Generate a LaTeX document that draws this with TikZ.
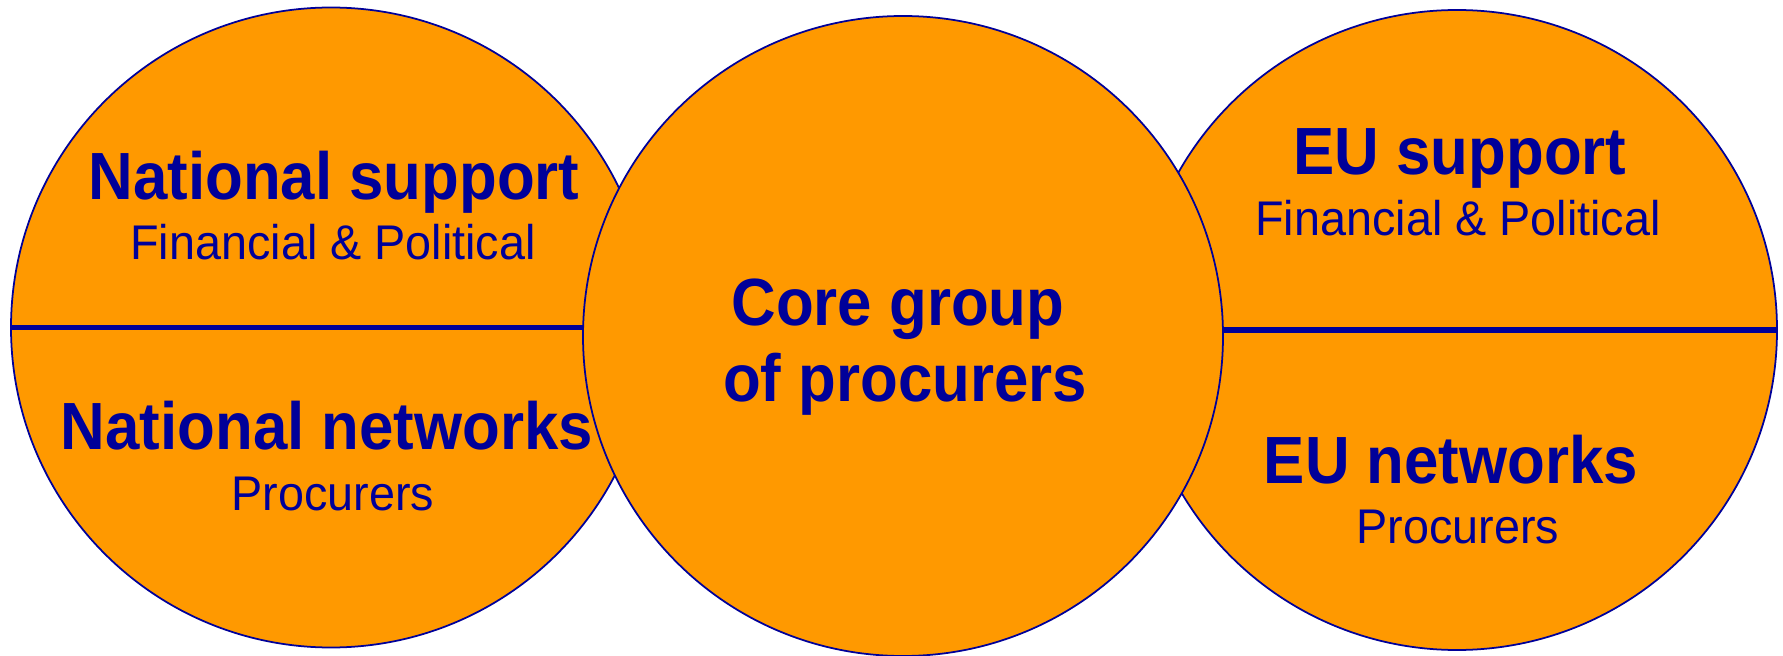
\documentclass[tikz,border=0pt]{standalone}
\usepackage{fontspec}
\setmainfont{Liberation Sans}
\newfontfamily\headfont[FakeStretch=0.925]{Liberation Sans}
\newfontfamily\subfont[FakeStretch=0.96]{Liberation Sans}
\definecolor{amber}{HTML}{FF9900}
\definecolor{navy}{HTML}{000099}
\tikzset{
    disc/.style={circle, draw=navy, fill=amber, line width=1pt, minimum size=12.8cm, inner sep=0pt},
    head/.style={anchor=base, text=navy, font=\headfont\fontsize{38}{42}\selectfont\bfseries},
    sub/.style={anchor=base, text=navy, font=\subfont\fontsize{27.7}{31}\selectfont},
}
\begin{document}
\begin{tikzpicture}
    \useasboundingbox (0,0) rectangle (35.66,13.1);

    \node[disc] (natl) at (6.62,6.55) {};
    \draw[navy, line width=3pt] (natl.west) -- (natl.east);
    \node[disc] (eu) at (29.14,6.5) {};
    \draw[navy, line width=3pt] (eu.west) -- (eu.east);
    \node[disc] (core) at (18.06,6.38) {};

    \node[head] (natsup) at (6.68,9.1) {National support};
    \node[sub] (natfin) at (6.66,7.9) {Financial \& Political};
    \node[head] (natnet) at (6.54,4.12) {National networks};
    \node[sub] (natproc) at (6.66,2.9) {Procurers};

    \node[head] (coreA) at (17.96,6.59) {Core group};
    \node[head] (coreB) at (18.1,5.08) {of procurers};

    \node[head] (eusup) at (29.2,9.6) {EU support};
    \node[sub] (eufin) at (29.16,8.38) {Financial \& Political};
    \node[head] (eunet) at (29.02,3.44) {EU networks};
    \node[sub] (euproc) at (29.16,2.24) {Procurers};
\end{tikzpicture}
\end{document}
